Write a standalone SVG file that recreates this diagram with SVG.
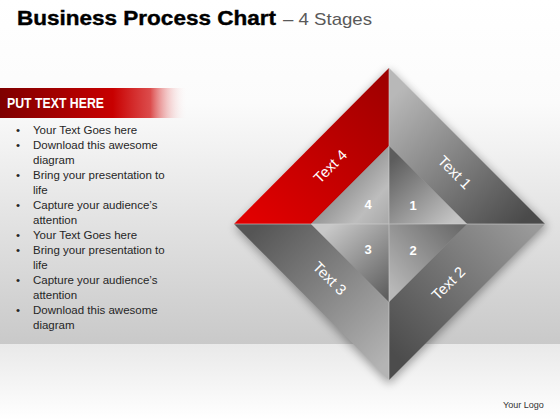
<svg xmlns="http://www.w3.org/2000/svg" width="560" height="420" viewBox="0 0 560 420">
<defs>
<linearGradient id="wall" x1="0" y1="0" x2="0" y2="1">
<stop offset="0" stop-color="#ffffff"/><stop offset="0.3" stop-color="#fbfbfb"/><stop offset="1" stop-color="#c9c9c9"/>
</linearGradient>
<linearGradient id="floor" x1="0" y1="0" x2="0" y2="1">
<stop offset="0" stop-color="#e9e9e9"/><stop offset="1" stop-color="#ffffff"/>
</linearGradient>
<linearGradient id="banner" x1="0" y1="0" x2="1" y2="0">
<stop offset="0" stop-color="#7e0000"/><stop offset="0.6" stop-color="#c80000"/><stop offset="0.8" stop-color="#d42020" stop-opacity="0.8"/><stop offset="1" stop-color="#ffffff" stop-opacity="0"/>
</linearGradient>
<linearGradient id="g4" gradientUnits="userSpaceOnUse" x1="389" y1="68" x2="260" y2="224">
<stop offset="0" stop-color="#9c0000"/><stop offset="1" stop-color="#e00000"/>
</linearGradient>
<linearGradient id="g1" gradientUnits="userSpaceOnUse" x1="400" y1="90" x2="520" y2="224">
<stop offset="0" stop-color="#b8b8b8"/><stop offset="1" stop-color="#4a4a4a"/>
</linearGradient>
<linearGradient id="g3" gradientUnits="userSpaceOnUse" x1="260" y1="224" x2="389" y2="360">
<stop offset="0" stop-color="#555555"/><stop offset="1" stop-color="#b4b4b4"/>
</linearGradient>
<linearGradient id="g2" gradientUnits="userSpaceOnUse" x1="530" y1="224" x2="400" y2="360">
<stop offset="0" stop-color="#9a9a9a"/><stop offset="1" stop-color="#4c4c4c"/>
</linearGradient>
<linearGradient id="i4" gradientUnits="userSpaceOnUse" x1="340" y1="180" x2="389" y2="224">
<stop offset="0" stop-color="#8e8e8e"/><stop offset="0.6" stop-color="#bdbdbd"/><stop offset="1" stop-color="#a8a8a8"/>
</linearGradient>
<linearGradient id="i1" gradientUnits="userSpaceOnUse" x1="392" y1="160" x2="450" y2="224">
<stop offset="0" stop-color="#5c5c5c"/><stop offset="1" stop-color="#c4c4c4"/>
</linearGradient>
<linearGradient id="i3" gradientUnits="userSpaceOnUse" x1="330" y1="226" x2="389" y2="295">
<stop offset="0" stop-color="#c8c8c8"/><stop offset="1" stop-color="#5e5e5e"/>
</linearGradient>
<linearGradient id="i2" gradientUnits="userSpaceOnUse" x1="392" y1="290" x2="460" y2="226">
<stop offset="0" stop-color="#b8b8b8"/><stop offset="1" stop-color="#6a6a6a"/>
</linearGradient>
<filter id="shadow" x="-20%" y="-20%" width="140%" height="140%">
<feGaussianBlur stdDeviation="5"/>
</filter>
<style>
.title{font-family:"Liberation Sans",Arial,sans-serif;font-weight:bold;font-size:21px;fill:#000}
.sub{font-family:"Liberation Sans",Arial,sans-serif;font-size:17px;fill:#595959}
.head{font-family:"Liberation Sans",Arial,sans-serif;font-weight:bold;font-size:14px;fill:#fff}
.li{font-family:"Liberation Sans",Arial,sans-serif;font-size:11.5px;fill:#262626}
.lab{font-family:"Liberation Sans",Arial,sans-serif;font-size:15px;fill:#fff;text-anchor:middle}
.num{font-family:"Liberation Sans",Arial,sans-serif;font-weight:bold;font-size:13px;fill:#fff;text-anchor:middle}
.logo{font-family:"Liberation Sans",Arial,sans-serif;font-size:9px;fill:#333}
</style>
</defs>
<rect x="0" y="0" width="560" height="344" fill="url(#wall)"/>
<rect x="0" y="344" width="560" height="76" fill="url(#floor)"/>
<text x="17" y="25" class="title" textLength="259" lengthAdjust="spacingAndGlyphs" stroke="#000" stroke-width="0.4">Business Process Chart</text>
<text x="283" y="25" class="sub" textLength="89" lengthAdjust="spacingAndGlyphs">– 4 Stages</text>
<g id="sidebar">
<rect x="0" y="88" width="188" height="30" fill="url(#banner)"/>
<text x="7" y="108" class="head" textLength="97" lengthAdjust="spacingAndGlyphs">PUT TEXT HERE</text>
<g class="li">
<text x="16" y="134">•</text><text x="33" y="134">Your Text Goes here</text>
<text x="16" y="149">•</text><text x="33" y="149">Download this awesome</text>
<text x="33" y="164">diagram</text>
<text x="16" y="179">•</text><text x="33" y="179">Bring your presentation to</text>
<text x="33" y="194">life</text>
<text x="16" y="209">•</text><text x="33" y="209">Capture your audience’s</text>
<text x="33" y="224">attention</text>
<text x="16" y="239">•</text><text x="33" y="239">Your Text Goes here</text>
<text x="16" y="254">•</text><text x="33" y="254">Bring your presentation to</text>
<text x="33" y="269">life</text>
<text x="16" y="284">•</text><text x="33" y="284">Capture your audience’s</text>
<text x="33" y="299">attention</text>
<text x="16" y="314">•</text><text x="33" y="314">Download this awesome</text>
<text x="33" y="329">diagram</text>
</g>
</g>
<polygon points="389,70 547,226 389,384 235,228" fill="#000" opacity="0.35" filter="url(#shadow)"/>
<g id="stage4">
<polygon points="234,224 389,68 389,146 311,224" fill="url(#g4)"/>
<polygon points="389,146 389,224 311,224" fill="url(#i4)"/>
<text class="lab" transform="translate(334,170) rotate(-45)">Text 4</text>
<text class="num" x="368" y="209">4</text>
</g>
<g id="stage1">
<polygon points="389,68 545,224 467,224 389,146" fill="url(#g1)"/>
<polygon points="389,146 467,224 389,224" fill="url(#i1)"/>
<text class="lab" transform="translate(451,176) rotate(45)">Text 1</text>
<text class="num" x="413" y="210">1</text>
</g>
<g id="stage3">
<polygon points="234,224 311,224 389,302 389,380" fill="url(#g3)"/>
<polygon points="311,224 389,224 389,302" fill="url(#i3)"/>
<text class="lab" transform="translate(326,282) rotate(45)">Text 3</text>
<text class="num" x="368" y="254">3</text>
</g>
<g id="stage2">
<polygon points="545,224 467,224 389,302 389,380" fill="url(#g2)"/>
<polygon points="467,224 389,224 389,302" fill="url(#i2)"/>
<text class="lab" transform="translate(452,287) rotate(-45)">Text 2</text>
<text class="num" x="413" y="255">2</text>
</g>
<g id="connectors" stroke="#d0d0d0" stroke-width="1" opacity="0.6">
<line x1="389" y1="68" x2="389" y2="380"/>
<line x1="234" y1="224" x2="545" y2="224"/>
</g>
<text x="503" y="408" class="logo">Your Logo</text>
</svg>
